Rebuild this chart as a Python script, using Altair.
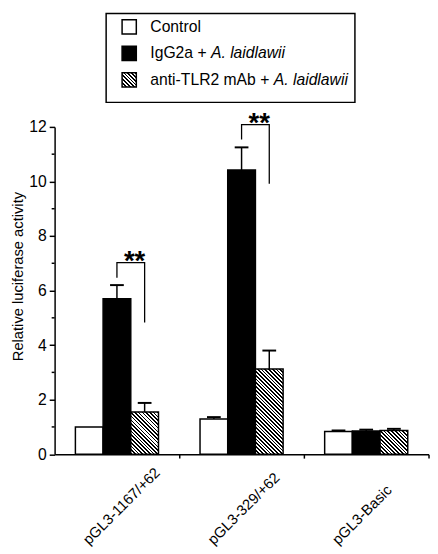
import math
import altair as alt
import pandas as pd

# ---------------- data ----------------
groups = ["pGL3-1167/+62", "pGL3-329/+62", "pGL3-Basic"]
series_keys = ["ctrl", "igg", "anti"]
legend_plain = ["Control", "IgG2a + ", "anti-TLR2 mAb + "]
legend_italic = ["", "A. laidlawii", "A. laidlawii"]

control_vals = [1.00, 1.29, 0.83]
control_err = [1.00, 1.36, 0.87]
igg_vals = [5.70, 10.42, 0.85]
igg_err = [6.20, 11.25, 0.90]
anti_vals = [1.55, 3.12, 0.87]
anti_err = [1.88, 3.80, 0.93]

bracket_groups = ["pGL3-1167/+62", "pGL3-329/+62"]
bracket_top = [7.02, 12.08]
bracket_left_end = [6.47, 11.54]
bracket_right_end = [4.83, 9.92]
bracket_text = ["**", "**"]

major_ticks = [0, 2, 4, 6, 8, 10, 12]
minor_ticks = [1, 3, 5, 7, 9, 11]

# ---------------- layout / style ----------------
W, H = 381, 333.5
YMAX = 12
FONT = "Liberation Sans"
PAD_OUTER = 0.75
BW = (W / len(groups)) / (len(series_keys) + 2 * PAD_OUTER)


def hatch(w, h, period=2.7, frac=0.45):
    r = h / w
    a = (1 + r) / (1 + r * r)
    L = (w + h) / math.sqrt(2)
    n = L / period
    stops = [{"offset": 0, "color": "white"}]
    i = 0
    while i / n < 1:
        s = i / n
        e = min((i + frac) / n, 1)
        stops += [
            {"offset": s, "color": "white"},
            {"offset": s, "color": "black"},
            {"offset": e, "color": "black"},
            {"offset": e, "color": "white"},
        ]
        i += 1
    stops.append({"offset": 1, "color": "white"})
    return {"gradient": "linear", "x1": 0, "y1": 1, "x2": a, "y2": 1 - a * r, "stops": stops}


rows = []
for i, g in enumerate(groups):
    rows.append({"group": g, "series": "ctrl", "value": control_vals[i], "err": control_err[i]})
    rows.append({"group": g, "series": "igg", "value": igg_vals[i], "err": igg_err[i]})
    rows.append({"group": g, "series": "anti", "value": anti_vals[i], "err": anti_err[i]})
bars_df = pd.DataFrame(rows)

br_rows = []
for i, g in enumerate(bracket_groups):
    br_rows += [
        {"group": g, "series": "igg", "value": bracket_left_end[i], "order": 0},
        {"group": g, "series": "igg", "value": bracket_top[i], "order": 1},
        {"group": g, "series": "anti", "value": bracket_top[i], "order": 2},
        {"group": g, "series": "anti", "value": bracket_right_end[i], "order": 3},
    ]
br_df = pd.DataFrame(br_rows)
star_df = pd.DataFrame({"group": bracket_groups, "series": ["igg"] * 2,
                        "value": bracket_top, "label": bracket_text})
minor_df = pd.DataFrame({"value": minor_ticks})

x_enc = alt.X(
    "group:N",
    scale=alt.Scale(domain=groups, paddingInner=0, paddingOuter=0),
    axis=alt.Axis(
        title=None, labelAngle=315, labelAlign="left", labelBaseline="middle",
        labelFontSize=15, labelFont=FONT, labelColor="black", labelPadding=85,
        labelOffset=-32, bandPosition=1, tickSize=4, tickWidth=1.5,
        tickColor="black", domainColor="black", domainWidth=1.5, grid=False,
    ),
)
xo_enc = alt.XOffset("series:N", scale=alt.Scale(domain=series_keys, paddingInner=0,
                                                  paddingOuter=PAD_OUTER))
y_axis = alt.Axis(
    values=major_ticks, title="Relative luciferase activity", titleFont=FONT,
    titleFontSize=15, titleFontWeight="normal", titleColor="black", titlePadding=3,
    titleY=152,
    labelFont=FONT, labelFontSize=16, labelColor="black", labelPadding=3,
    tickSize=5.5, tickWidth=1.5, tickColor="black", domainColor="black",
    domainWidth=1.5, grid=False,
)
y_scale = alt.Scale(domain=[0, YMAX], nice=False, zero=True)
y_enc = alt.Y("value:Q", scale=y_scale, axis=y_axis)

base = alt.Chart(bars_df)

ctrl_bars = base.transform_filter(alt.datum.series == "ctrl").mark_bar(
    fill="white", stroke="black", strokeWidth=1.5).encode(x=x_enc, xOffset=xo_enc, y=y_enc)
igg_bars = base.transform_filter(alt.datum.series == "igg").mark_bar(
    fill="black", stroke="black", strokeWidth=1.5).encode(x=x_enc, xOffset=xo_enc, y=y_enc)
anti_layers = []
for g, v in zip(groups, anti_vals):
    anti_layers.append(
        base.transform_filter((alt.datum.series == "anti") & (alt.datum.group == g))
        .mark_bar(fill=hatch(BW, v * H / YMAX), stroke="black", strokeWidth=1.5)
        .encode(x=x_enc, xOffset=xo_enc, y=y_enc)
    )

err_base = base.transform_filter(alt.datum.err > alt.datum.value)
err_rules = err_base.mark_rule(color="black", strokeWidth=1.5).encode(
    x=x_enc, xOffset=xo_enc, y=y_enc, y2="err:Q")
err_caps = err_base.mark_tick(color="black", size=14, thickness=2, opacity=1).encode(
    x=x_enc, xOffset=xo_enc, y=alt.Y("err:Q", scale=y_scale, axis=y_axis))

minor = alt.Chart(minor_df).mark_rule(color="black", strokeWidth=1.5).encode(
    y=alt.Y("value:Q", scale=y_scale, axis=y_axis), x=alt.value(-3), x2=alt.value(0))

brackets = alt.Chart(br_df).mark_line(color="black", strokeWidth=1.3).encode(
    x=x_enc, xOffset=xo_enc, y=y_enc, detail="group:N", order="order:Q")
stars = alt.Chart(star_df).mark_text(
    font=FONT, fontSize=28, fontWeight="bold", color="black", align="center",
    baseline="alphabetic", dx=18, dy=7).encode(x=x_enc, xOffset=xo_enc, y=y_enc, text="label:N")

main = alt.layer(ctrl_bars, igg_bars, *anti_layers, err_rules, err_caps, minor, brackets, stars)

# ---------------- legend ----------------
legend_df = pd.DataFrame({"entry": series_keys, "plain": legend_plain, "italic": legend_italic})
ly = alt.Y("entry:N", scale=alt.Scale(domain=series_keys, range=[-102, -48], padding=0), axis=None)
lbase = alt.Chart(legend_df)
box = alt.Chart(pd.DataFrame({"a": [0]})).mark_rect(
    fill="white", stroke="black", strokeWidth=1.5).encode(
    x=alt.value(52.5), x2=alt.value(306), y=alt.value(-115.5), y2=alt.value(-25))
sym_ctrl = lbase.transform_filter(alt.datum.entry == "ctrl").mark_point(
    shape="square", filled=True, fill="white", stroke="black", strokeWidth=1.5,
    size=210, opacity=1).encode(x=alt.value(76), y=ly)
sym_igg = lbase.transform_filter(alt.datum.entry == "igg").mark_point(
    shape="square", filled=True, fill="black", stroke="black", strokeWidth=1.5,
    size=210, opacity=1).encode(x=alt.value(76), y=ly)
sym_anti = lbase.transform_filter(alt.datum.entry == "anti").mark_point(
    shape="square", filled=True, fill=hatch(14.5, 14.5), stroke="black", strokeWidth=1.5,
    size=210, opacity=1).encode(x=alt.value(76), y=ly)
txt_plain = lbase.mark_text(font=FONT, fontSize=16, color="black", align="left",
                            baseline="middle").encode(x=alt.value(97.5), y=ly, text="plain:N")
ital_widths = {"igg": 61.8, "anti": 125.8}
ital_layers = []
for key, wdt in ital_widths.items():
    ital_layers.append(
        lbase.transform_filter(alt.datum.entry == key).mark_text(
            font=FONT, fontSize=16, fontStyle="italic", color="black", align="left",
            baseline="middle").encode(x=alt.value(97.5 + wdt), y=ly, text="italic:N")
    )
legend = alt.layer(box, sym_ctrl, sym_igg, sym_anti, txt_plain, *ital_layers)

chart = alt.layer(main, legend).resolve_scale(y="independent").properties(
    width=W, height=H,
    autosize=alt.AutoSizeParams(type="none"),
    padding={"left": 47.5, "top": 116, "right": 1.5, "bottom": 95},
).configure_view(stroke=None)

chart.save("out.html", embed_options={"renderer": "svg", "actions": False})
